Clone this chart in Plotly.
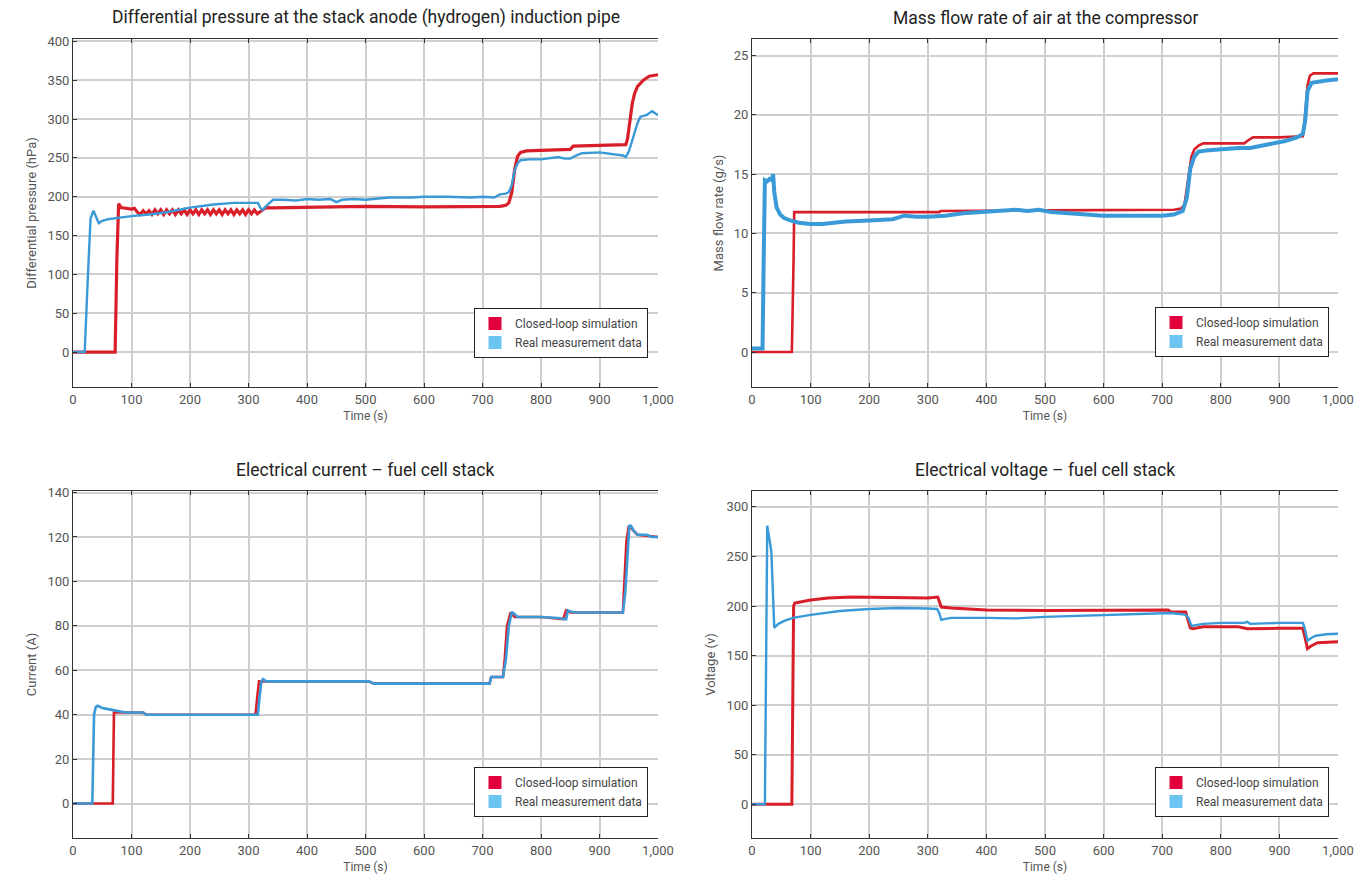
import plotly.graph_objects as go

# ---------------- data ----------------
x_ticks = [0, 100, 200, 300, 400, 500, 600, 700, 800, 900, 1000]
x_tick_text = ["0", "100", "200", "300", "400", "500", "600", "700", "800", "900", "1,000"]

# Panel 1: differential pressure (hPa)
p_sim_t = [0, 72, 75, 78, 82, 90, 100, 105, 110, 115, 120, 125, 130, 135, 140, 145, 150, 155, 160,
           165, 170, 175, 180, 185, 190, 195, 200, 205, 210, 215, 220, 225, 230, 235, 240, 245, 250,
           255, 260, 265, 270, 275, 280, 285, 290, 295, 300, 305, 310, 315, 320, 325, 330, 340, 400,
           500, 600, 700, 730, 740, 745, 750, 755, 760, 765, 775, 800, 850, 855, 900, 945, 948, 952,
           956, 960, 965, 975, 985, 1000]
p_sim_v = [0, 0, 120, 191, 186, 185, 184, 185, 180, 177, 182, 178, 182, 177, 183, 178, 183, 177, 183,
           178, 183, 177, 183, 178, 183, 177, 183, 178, 183, 177, 183, 178, 183, 177, 183, 178, 183,
           177, 183, 178, 183, 177, 183, 178, 183, 177, 183, 178, 183, 178, 181, 184, 186, 185.5, 186.5,
           187.5, 187, 187, 187.5, 189, 192, 205, 235, 252, 257, 259, 260, 261, 265, 266, 267, 275, 300,
           320, 333, 342, 350, 355, 357]
p_meas_t = [0, 20, 25, 30, 35, 38, 44, 50, 60, 80, 100, 130, 160, 200, 240, 275, 316, 320, 324, 330,
            342, 360, 380, 400, 420, 440, 450, 460, 480, 500, 540, 580, 600, 640, 680, 700, 720, 730,
            740, 745, 750, 755, 760, 765, 780, 800, 820, 830, 840, 850, 860, 870, 900, 920, 940, 945,
            950, 955, 960, 965, 970, 980, 990, 995, 1000]
p_meas_v = [0, 0, 90, 172, 182, 176, 166, 169, 171, 173, 175, 177, 180, 186, 190, 192, 192, 186, 183, 188,
            196, 196, 195, 197, 196, 197, 193, 196, 197, 196, 199, 199, 200, 200, 199, 200, 199, 203,
            204, 206, 215, 234, 243, 247, 248, 248, 250, 251, 249, 249, 253, 256, 257, 255, 253, 251,
            258, 270, 283, 295, 303, 305, 310, 308, 305]

# Panel 2: mass flow rate of air (g/s)
m_sim_t = [0, 68, 71, 72, 320, 322, 500, 720, 732, 738, 744, 750, 755, 762, 770, 840, 848, 855, 900,
           940, 944, 948, 952, 958, 1000]
m_sim_v = [0, 0, 8, 11.8, 11.8, 11.9, 11.95, 12.0, 12.1, 12.4, 14.5, 16.5, 17.1, 17.4, 17.6, 17.6, 17.9,
           18.1, 18.1, 18.2, 20, 22.5, 23.3, 23.5, 23.5]
m_meas_t = [0, 18, 20, 22, 26, 30, 34, 36, 38, 42, 48, 55, 65, 80, 100, 120, 140, 160, 200, 240, 260,
            280, 300, 330, 360, 400, 430, 450, 470, 490, 510, 540, 570, 600, 650, 700, 720, 735, 742,
            748, 755, 762, 775, 800, 830, 850, 870, 890, 910, 930, 940, 944, 948, 955, 965, 980, 1000]
m_meas_v = [0.3, 0.3, 8, 14.5, 14.4, 14.6, 14.5, 15, 13.5, 12.2, 11.6, 11.3, 11.1, 10.9, 10.8, 10.8, 10.9,
            11.0, 11.1, 11.2, 11.5, 11.4, 11.4, 11.5, 11.7, 11.8, 11.9, 12.0, 11.9, 12.0, 11.8, 11.7,
            11.6, 11.5, 11.5, 11.5, 11.6, 11.9, 13, 15.5, 16.5, 16.9, 17.0, 17.1, 17.2, 17.2, 17.4,
            17.6, 17.8, 18.1, 18.4, 19.5, 22, 22.7, 22.8, 22.9, 23.0]

# Panel 3: electrical current (A)
i_sim_t = [0, 68, 70, 90, 120, 125, 200, 312, 315, 318, 322, 330, 505, 515, 712, 715, 735, 738, 742,
           748, 755, 800, 838, 843, 850, 940, 942, 946, 950, 958, 965, 1000]
i_sim_v = [0, 0, 41, 41, 41, 40, 40, 40, 48, 55, 55, 55, 55, 54, 54, 57, 57, 65, 80, 86, 84, 84, 83, 87,
           86, 86, 95, 118, 125, 123, 121, 120]
i_meas_t = [0, 33, 36, 39, 42, 50, 60, 70, 90, 110, 120, 125, 130, 200, 300, 316, 319, 322, 325, 330,
            400, 505, 510, 515, 600, 700, 712, 715, 718, 735, 740, 745, 750, 752, 760, 800, 830, 838,
            843, 846, 850, 860, 900, 940, 944, 948, 951, 954, 958, 965, 980, 990, 1000]
i_meas_v = [0, 0, 40, 43.5, 44, 43, 42.5, 42, 41, 41, 41, 40, 40, 40, 40, 40, 48, 55, 56, 55, 55, 55,
            54.5, 54, 54, 54, 54, 57, 57, 57, 65, 80, 86, 86, 84, 84, 83.5, 83, 83, 87, 86.5, 86, 86,
            86, 95, 115, 125, 125, 123, 121, 121, 120, 120]

# Panel 4: electrical voltage (V)
u_sim_t = [0, 68, 71, 73, 100, 130, 170, 220, 300, 317, 320, 323, 340, 400, 500, 600, 700, 710, 715,
           740, 743, 748, 752, 770, 830, 840, 845, 900, 940, 943, 948, 955, 965, 1000]
u_sim_v = [0, 0, 200, 203, 206, 208, 209, 208.5, 208, 209, 203, 199, 198, 196, 195.5, 196, 196, 196,
           194, 194, 188, 178, 177, 179, 179, 178, 177, 177.5, 177.5, 170, 157, 160, 163, 164]
u_meas_t = [0, 22, 26, 33, 38, 45, 55, 70, 100, 150, 200, 250, 300, 316, 320, 323, 330, 340, 400, 450,
            500, 600, 700, 715, 730, 740, 745, 750, 760, 770, 800, 840, 845, 850, 900, 940, 943, 948,
            955, 962, 980, 1000]
u_meas_v = [0, 0, 281, 255, 178, 182, 185, 188, 191, 195, 197, 198, 197.5, 197, 192, 186, 187, 188, 188,
            187.5, 189, 191, 193, 193, 192, 191, 188, 180, 181, 182, 183, 183, 184, 182, 183, 183, 178,
            165, 168, 170, 171.5, 172]

titles = ["Differential pressure at the stack anode (hydrogen) induction pipe",
          "Mass flow rate of air at the compressor",
          "Electrical current \u2013 fuel cell stack",
          "Electrical voltage \u2013 fuel cell stack"]
y_titles = ["Differential pressure (hPa)", "Mass flow rate (g/s)", "Current (A)", "Voltage (v)"]
y_ranges = [[-45, 403], [-2.95, 26.4], [-15.5, 140.7], [-34, 316]]
y_ticks = [[0, 50, 100, 150, 200, 250, 300, 350, 400],
           [0, 5, 10, 15, 20, 25],
           [0, 20, 40, 60, 80, 100, 120, 140],
           [0, 50, 100, 150, 200, 250, 300]]
legend_names = ["Closed-loop simulation", "Real measurement data"]

# ---------------- style ----------------
W, H = 1357, 878
RED = "#d81e28"
BLUE = "#3a9ad8"
RED_LEG = "#e2003c"
BLUE_LEG = "#6cc5f0"
FONT = "Roboto"
TICK_COLOR = "#555555"
GRID = "#cfcfcf"

# pixel boxes of plot areas (left, right, top, bottom)
boxes = [(73, 658, 39, 387), (752, 1338, 39, 387), (73, 658, 491, 838), (752, 1338, 491, 838)]
legend_pos = [(474, 308), (1155, 307), (474, 767), (1155, 767)]

series = [(p_sim_t, p_sim_v, p_meas_t, p_meas_v, 3.2, 2.4),
          (m_sim_t, m_sim_v, m_meas_t, m_meas_v, 2.6, 4.0),
          (i_sim_t, i_sim_v, i_meas_t, i_meas_v, 2.6, 2.6),
          (u_sim_t, u_sim_v, u_meas_t, u_meas_v, 3.0, 2.4)]

fig = go.Figure()
layout = dict(width=W, height=H, margin=dict(l=0, r=0, t=0, b=0, autoexpand=False),
              paper_bgcolor="white", plot_bgcolor="white",
              font=dict(family=FONT, color=TICK_COLOR), annotations=[])

for k in range(4):
    n = "" if k == 0 else str(k + 1)
    xa, ya = "x" + n, "y" + n
    leg = "legend" + n
    st, sv, mt, mv, wr, wb = series[k]
    fig.add_trace(go.Scatter(x=st, y=sv, mode="lines", line=dict(color=RED, width=wr),
                             xaxis=xa, yaxis=ya, showlegend=False, hoverinfo="skip"))
    fig.add_trace(go.Scatter(x=mt, y=mv, mode="lines", line=dict(color=BLUE, width=wb),
                             xaxis=xa, yaxis=ya, showlegend=False, hoverinfo="skip"))
    fig.add_trace(go.Scatter(x=[None], y=[None], mode="markers", name=legend_names[0],
                             marker=dict(symbol="square", size=13, color=RED_LEG),
                             xaxis=xa, yaxis=ya, legend=leg))
    fig.add_trace(go.Scatter(x=[None], y=[None], mode="markers", name=legend_names[1],
                             marker=dict(symbol="square", size=13, color=BLUE_LEG),
                             xaxis=xa, yaxis=ya, legend=leg))

    l, r, t, b = boxes[k]
    layout["xaxis" + n] = dict(
        domain=[l / W, r / W], anchor=ya, range=[0, 1000], automargin=False,
        tickvals=x_ticks, ticktext=x_tick_text, tickfont=dict(size=13, color=TICK_COLOR),
        showgrid=True, gridcolor=GRID, gridwidth=1.5, zeroline=False,
        showline=True, linecolor="#333333", linewidth=1.2, mirror="ticks",
        ticks="inside", ticklen=4, tickcolor="#333333",
        title=dict(text="Time (s)", font=dict(size=12, color=TICK_COLOR), standoff=5))
    layout["yaxis" + n] = dict(
        domain=[1 - b / H, 1 - t / H], anchor=xa, range=y_ranges[k], automargin=False,
        tickvals=y_ticks[k], tickfont=dict(size=13, color=TICK_COLOR),
        showgrid=True, gridcolor=GRID, gridwidth=1.5, zeroline=False,
        showline=True, linecolor="#333333", linewidth=1.2, mirror=False,
        ticks="inside", ticklen=4, tickcolor="#333333",
        title=dict(text=y_titles[k], font=dict(size=13, color=TICK_COLOR), standoff=7))
    lx, ly = legend_pos[k]
    layout[leg] = dict(x=lx / W, y=1 - ly / H, xanchor="left", yanchor="top",
                       bgcolor="white", bordercolor="#222222", borderwidth=1,
                       font=dict(size=12, color="#444444"), itemwidth=30,
                       tracegroupgap=0)
    layout["annotations"].append(dict(
        text=titles[k], x=(l + r) / 2 / W, y=1 - (t - 21) / H, xref="paper", yref="paper",
        xanchor="center", yanchor="middle", showarrow=False,
        font=dict(size=17.5, color="#222222", family=FONT)))

fig.update_layout(**layout)
fig.write_html("out.html", config={"displayModeBar": False},
               post_script="document.body.style.margin='0';document.body.style.padding='0';")
